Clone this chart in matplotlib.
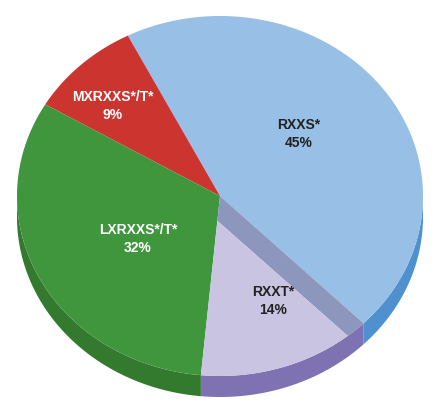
import numpy as np
import matplotlib
matplotlib.use("Agg")
import matplotlib.pyplot as plt
from matplotlib.patches import Polygon

# ---- data ----
labels = ["RXXS*", "MXRXXS*/T*", "LXRXXS*/T*", "RXXT*"]
shares = [45, 9, 32, 14]
pct_text = ["45%", "9%", "32%", "14%"]

# ---- style / layout ----
top_colors = ["#98bfe5", "#cc3430", "#3f963d", "#c9c4e2"]
side_colors = ["#4f90cf", "#a82824", "#347a2e", "#7e72b3"]
text_colors = ["#222222", "white", "white", "#222222"]
label_pos = [(299, 134), (113, 106), (138, 239), (273, 301)]
start_angle = -45.0
cx, cy, rx, ry, depth = 220.0, 197.0, 203.0, 180.0, 21.0
wall_deg, sink = 6.0, 25.0

fig = plt.figure(figsize=(4.33, 4.02), dpi=100)
ax = fig.add_axes([0, 0, 1, 1])
ax.set_xlim(0, 433)
ax.set_ylim(402, 0)
ax.axis("off")


def pt(a, dy=0.0):
    r = np.radians(a)
    return (cx + rx * np.cos(r), cy - ry * np.sin(r) + dy)


def arc(a0, a1, dy=0.0, n=120):
    return [pt(a, dy) for a in np.linspace(a0, a1, n)]


# slice angle bounds
bounds = []
a = start_angle
for s in shares:
    span = 360.0 * s / sum(shares)
    bounds.append((a, a + span))
    a += span

# sides (front half only, angles in [180, 360])
for i, (a0, a1) in enumerate(bounds):
    for off in (0, 360, -360):
        lo = max(a0 + off, 180.0)
        hi = min(a1 + off, 360.0)
        if hi > lo:
            poly = arc(lo, hi) + arc(hi, lo, depth)
            ax.add_patch(Polygon(poly, closed=True, facecolor=side_colors[i],
                                 edgecolor="none"))

# top faces of first three slices
for i in range(3):
    a0, a1 = bounds[i]
    poly = [(cx, cy)] + arc(a0, a1)
    ax.add_patch(Polygon(poly, closed=True, facecolor=top_colors[i],
                         edgecolor="none"))

# sunken last slice with visible wall
a0, a1 = bounds[3]
edge_a = a1 - wall_deg
c = pt(a0)
t = sink / np.hypot(c[0] - cx, c[1] - cy)
apex = (cx + t * (c[0] - cx), cy + t * (c[1] - cy))
wall = [(cx, cy), apex] + arc(edge_a, a1)
ax.add_patch(Polygon(wall, closed=True, facecolor="#8d97bd", edgecolor="none"))
face = [apex] + arc(a0, edge_a)
ax.add_patch(Polygon(face, closed=True, facecolor=top_colors[3], edgecolor="none"))

# labels
for i in range(4):
    x, y = label_pos[i]
    ax.text(x, y, labels[i] + "\n" + pct_text[i], ha="center", va="center",
            fontsize=10, fontweight="bold", color=text_colors[i],
            family=["Liberation Sans", "DejaVu Sans"], linespacing=1.3)

fig.savefig("out.png", dpi=100)
